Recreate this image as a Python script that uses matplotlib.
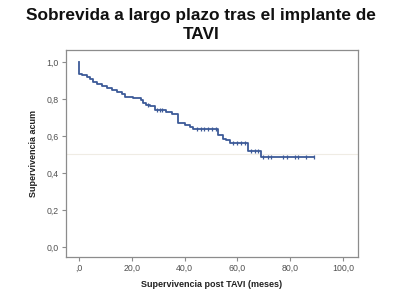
"""
Kaplan-Meier: supervivencia a largo plazo tras TAVI
"""

import numpy as np
import matplotlib.pyplot as plt

# ---- data ----
# event times (months) and the cumulative survival right after each event
event_times = [0.0, 1.1, 2.8, 4.1, 5.3, 6.6, 8.5, 10.4, 12.3, 14.2, 16.1, 17.3,
               20.5, 23.6, 24.2, 25.5, 26.8, 28.7, 33.1, 35.2, 37.5, 40.0,
               41.9, 43.2, 52.7, 54.5, 55.8, 57.1, 64.0, 68.8]
survival = [0.937, 0.928, 0.919, 0.906, 0.892, 0.880, 0.869, 0.860, 0.851,
            0.838, 0.826, 0.811, 0.806, 0.793, 0.778, 0.770, 0.761, 0.743,
            0.732, 0.721, 0.670, 0.658, 0.649, 0.638, 0.607, 0.586, 0.577,
            0.564, 0.518, 0.484]
last_followup = 89.0

# censored observations (tick marks)
censored = [26.0, 29.5, 30.5, 31.5, 44.5, 46.0, 47.5, 49.0, 50.5, 52.0,
            58.5, 60.0, 61.5, 63.0, 65.3, 66.5, 67.8, 69.7, 71.4, 72.9,
            77.3, 78.6, 81.7, 83.0, 86.1, 89.0]

x_ticks = [0, 20, 40, 60, 80, 100]
x_ticklabels = [",0", "20,0", "40,0", "60,0", "80,0", "100,0"]
y_ticks = [0.0, 0.2, 0.4, 0.6, 0.8, 1.0]
y_ticklabels = ["0,0", "0,2", "0,4", "0,6", "0,8", "1,0"]

line_color = "#3d5a98"
spine_color = "#8c8c8c"
text_color = "#505050"

plt.rcParams["font.family"] = ["Liberation Sans", "DejaVu Sans"]

fig = plt.figure(figsize=(4.02, 3.03), dpi=100)
ax = fig.add_axes([0.164, 0.152, 0.726, 0.683])

# step curve
xs = [0.0] + event_times + [last_followup]
ys = [1.0] + survival + [survival[-1]]
ax.step(xs, ys, where="post", color=line_color, lw=1.3)

# censor marks sit on the curve
idx = np.searchsorted(event_times, censored, side="right") - 1
cens_y = [survival[i] for i in idx]
ax.plot(censored, cens_y, linestyle="none", marker="|", markersize=3.5,
        markeredgewidth=0.9, color=line_color)

# faint reference line at 0.5
ax.axhline(0.5, color="#efece4", lw=0.8, zorder=0)

ax.set_xlim(-5.0, 105.6)
ax.set_ylim(-0.054, 1.065)
ax.set_xticks(x_ticks)
ax.set_xticklabels(x_ticklabels)
ax.set_yticks(y_ticks)
ax.set_yticklabels(y_ticklabels)
ax.tick_params(axis="both", direction="out", length=3, width=0.8,
               color=spine_color, labelsize=6.3, labelcolor=text_color, pad=2)

for side in ["left", "right", "top", "bottom"]:
    ax.spines[side].set_color(spine_color)
    ax.spines[side].set_linewidth(0.9)

ax.set_xlabel("Supervivencia post TAVI (meses)", fontsize=6.5,
              fontweight="bold", color="#222222", labelpad=5)
ax.set_ylabel("Supervivencia acum", fontsize=6.5, fontweight="bold",
              color="#222222", labelpad=6)

fig.text(0.5, 0.918, "Sobrevida a largo plazo tras el implante de\nTAVI",
         ha="center", va="center", fontsize=12.4, fontweight="bold",
         color="#111111", linespacing=1.3)

fig.savefig("out.png", dpi=100)
